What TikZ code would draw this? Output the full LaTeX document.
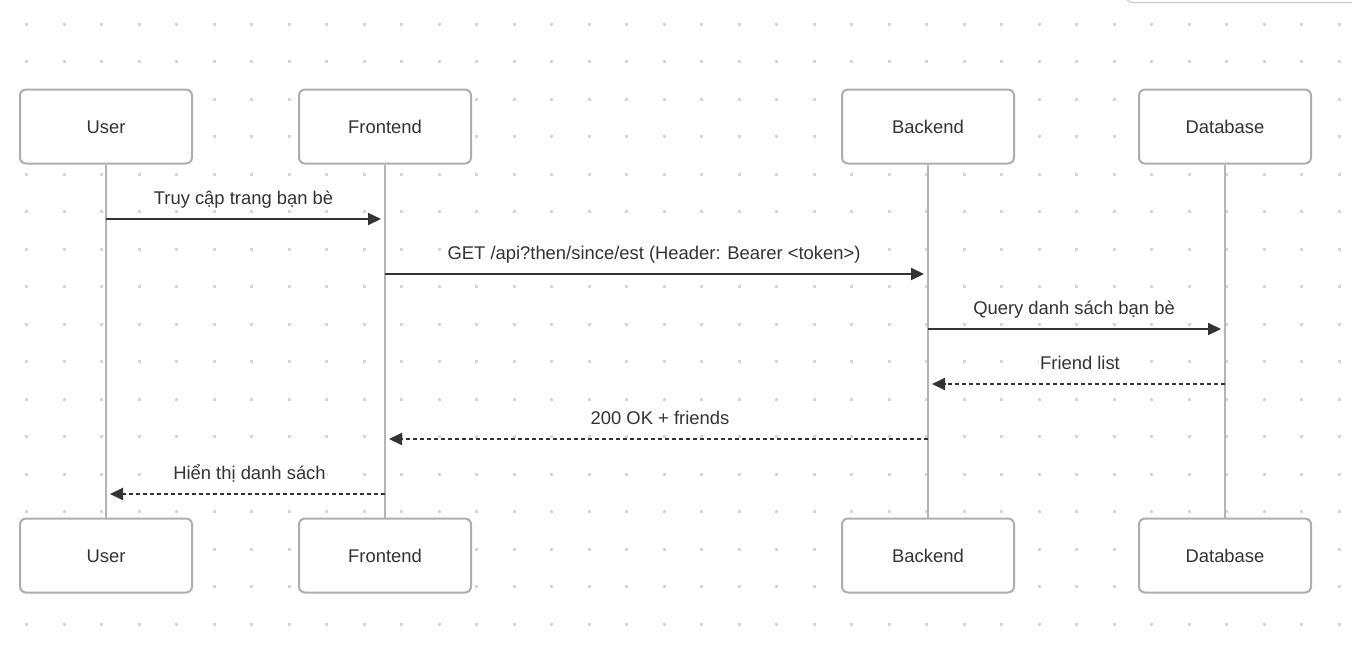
\documentclass[tikz,border=0pt]{standalone}
\usepackage{fontspec}
\setmainfont{Liberation Sans}
\usetikzlibrary{arrows.meta}
\definecolor{txt}{HTML}{333333}
\definecolor{boxline}{HTML}{AEAEAE}
\definecolor{lifeline}{HTML}{B4B4B4}
\definecolor{dotc}{HTML}{D6D6D6}
\definecolor{panel}{HTML}{CDCDD6}
\tikzset{
  actor/.style={draw=boxline, line width=2pt, fill=white, rounded corners=6pt,
    minimum width=172pt, minimum height=74pt, text=txt,
    text height=15pt, text depth=2pt,
    font=\fontsize{18.4}{22}\selectfont},
  life/.style={draw=lifeline, line width=2.2pt},
  msg/.style={draw=txt, line width=2pt, -{Triangle[length=13pt,width=12pt]}, shorten >=4pt},
  reply/.style={msg, dash pattern=on 4pt off 3pt},
  lbl/.style={fill=white, text=txt, inner sep=1.5pt, anchor=base,
    font=\fontsize{18.4}{22}\selectfont},
}
\begin{document}
\begin{tikzpicture}[x=1pt, y=-1pt]
\useasboundingbox (0,0) rectangle (1352,649);
\fill[white] (0,0) rectangle (1352,649);
% dot grid
\foreach \i in {0,...,35} {
  \foreach \j in {0,...,16} {
    \fill[dotc] ({26.7+37.5*\i-1.5},{24.3+37.5*\j-1.5}) rectangle ++(3,3);
  }
}
% top-right panel edge
\begin{scope}
\clip (0,0) rectangle (1352,649);
\draw[panel, line width=1.2pt, rounded corners=8pt] (1125,-20) -- (1125,2.5) -- (1400,2.5);
\end{scope}
% actors
\node[actor] (u1) at (106,126.5) {User};
\node[actor] (f1) at (385,126.5) {Frontend};
\node[actor] (b1) at (928,126.5) {Backend};
\node[actor] (d1) at (1225,126.5) {Database};
\node[actor] (u2) at (106,555.5) {User};
\node[actor] (f2) at (385,555.5) {Frontend};
\node[actor] (b2) at (928,555.5) {Backend};
\node[actor] (d2) at (1225,555.5) {Database};
% lifelines
\draw[life] (u1) -- (u2);
\draw[life] (f1) -- (f2);
\draw[life] (b1) -- (b2);
\draw[life] (d1) -- (d2);
% message anchor points
\coordinate (m1a) at (106,219); \coordinate (m1b) at (385,219);
\coordinate (m2a) at (385,274); \coordinate (m2b) at (928,274);
\coordinate (m3a) at (928,329); \coordinate (m3b) at (1225,329);
\coordinate (m4a) at (1225,384); \coordinate (m4b) at (928,384);
\coordinate (m5a) at (928,439); \coordinate (m5b) at (385,439);
\coordinate (m6a) at (385,494); \coordinate (m6b) at (106,494);
% labels
\node[lbl] (l1) at (243.5,204.5) {Truy cập trang bạn bè};
\node[lbl] (l2) at (654,259.5) {GET /api?then/since/est (Header: Bearer <token>)};
\node[lbl] (l3) at (1074,314.5) {Query danh sách bạn bè};
\node[lbl] (l4) at (1080,369.5) {Friend list};
\node[lbl] (l5) at (660,424.5) {200 OK + friends};
\node[lbl] (l6) at (249.5,479.5) {Hiển thị danh sách};
% messages
\draw[msg] (m1a) -- (m1b);
\draw[msg] (m2a) -- (m2b);
\draw[msg] (m3a) -- (m3b);
\draw[reply] (m4a) -- (m4b);
\draw[reply] (m5a) -- (m5b);
\draw[reply] (m6a) -- (m6b);
\end{tikzpicture}
\end{document}
